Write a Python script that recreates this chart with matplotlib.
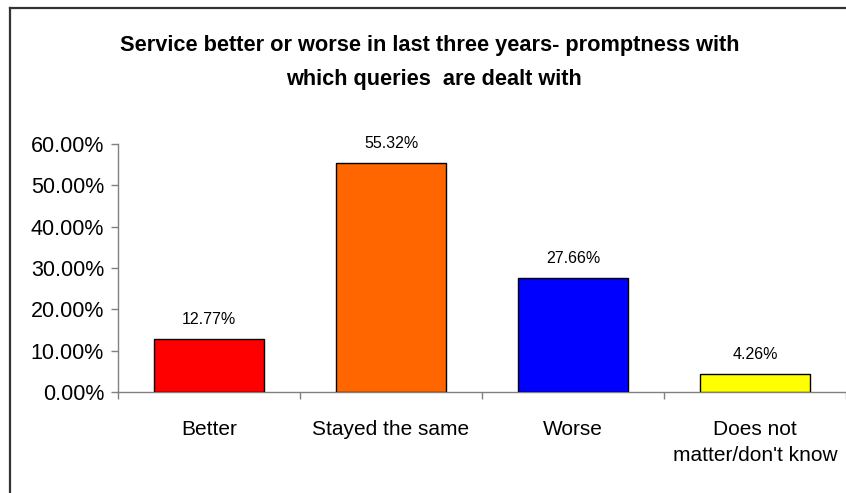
import matplotlib.pyplot as plt
import numpy as np
from matplotlib.ticker import FuncFormatter, FixedLocator

plt.rcParams['font.family'] = ['Liberation Sans', 'DejaVu Sans']

categories = ['Better', 'Stayed the same', 'Worse', 'Does not\nmatter/don\'t know']
values = [0.1277, 0.5532, 0.2766, 0.0426]
colors = ['#ff0000', '#ff6600', '#0000ff', '#ffff00']

fig = plt.figure(figsize=(8.46, 4.93), dpi=100)
ax = fig.add_axes([118 / 846, 1 - 392 / 493, 728 / 846, 248 / 493])

x = np.arange(len(categories))
bars = ax.bar(x, values, width=0.6, color=colors, edgecolor='black', linewidth=1, zorder=3)

for xi, v in zip(x, values):
    ax.annotate('%.2f%%' % (v * 100), (xi, v), xytext=(0, 14), textcoords='offset points',
                ha='center', va='center', fontsize=11.5)

ax.set_xlim(-0.5, len(categories) - 0.5)
ax.set_ylim(0, 0.6)
ax.set_yticks(np.arange(0, 0.61, 0.1))
ax.yaxis.set_major_formatter(FuncFormatter(lambda v, p: '%.2f%%' % (v * 100)))

ax.set_xticks(x)
ax.set_xticklabels(categories, fontsize=15, linespacing=1.45)
ax.xaxis.set_minor_locator(FixedLocator(np.arange(-0.5, len(categories), 1.0)))
ax.tick_params(axis='x', which='major', length=0, pad=20.5)
ax.tick_params(axis='x', which='minor', length=5, color='#808080', width=1)
ax.tick_params(axis='y', length=5, color='#808080', width=1, labelsize=15.5, pad=5)

for s in ['top', 'right']:
    ax.spines[s].set_visible(False)
for s in ['left', 'bottom']:
    ax.spines[s].set_color('#808080')
    ax.spines[s].set_linewidth(1)

fig.text(430 / 846, 1 - 51 / 493, 'Service better or worse in last three years- promptness with',
         ha='center', va='baseline', fontsize=15.7, fontweight='bold')
fig.text(434 / 846, 1 - 85 / 493, 'which queries  are dealt with',
         ha='center', va='baseline', fontsize=15.7, fontweight='bold')

# outer chart frame (only top and left edges visible)
fig.add_artist(plt.Line2D([9.5 / 846, 9.5 / 846], [0, 1 - 8 / 493], color='#333333', linewidth=1.6))
fig.add_artist(plt.Line2D([9.5 / 846, 1], [1 - 8 / 493, 1 - 8 / 493], color='#333333', linewidth=1.6))

plt.savefig('out.png', dpi=100)
